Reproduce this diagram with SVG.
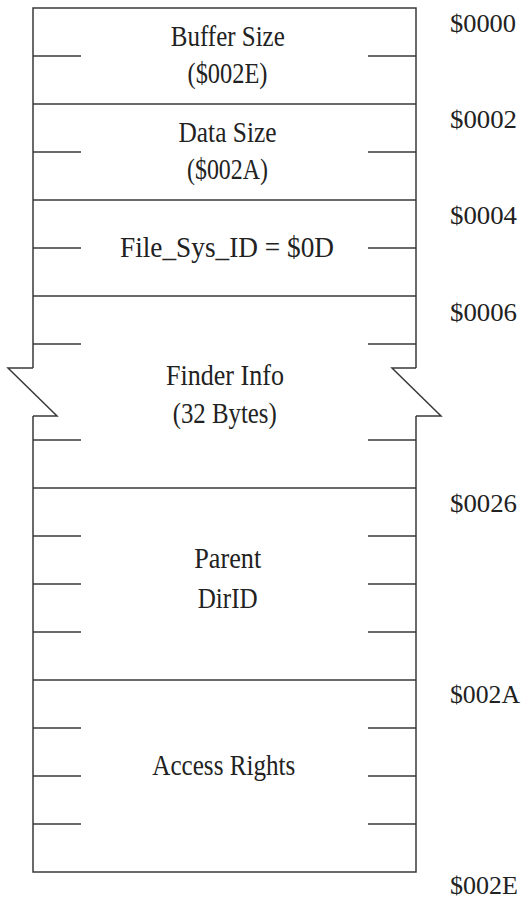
<svg xmlns="http://www.w3.org/2000/svg" width="523" height="901" viewBox="0 0 523 901">
<style>
.ln{stroke:#3a3a3a;stroke-width:1.5;fill:none}
.t{font-family:"Liberation Serif","Times New Roman",serif;font-size:29px;fill:#222;text-anchor:middle}
.a{font-family:"Liberation Serif","Times New Roman",serif;font-size:26px;fill:#222}
</style>
<rect width="523" height="901" fill="#fff"/>
<g id="frame" class="ln">
<path d="M33,368 V8 H416 V368 M33,416 V872 H416 V416"/>
<path d="M33,368 H8 L57,416 H33 M416,368 H392 L441,416 H416"/>
</g>
<g id="dividers" class="ln">
<path d="M33,104 H416 M33,200 H416 M33,296 H416 M33,488 H416 M33,680 H416"/>
</g>
<g id="ticks" class="ln">
<path d="M33,56 H81 M368,56 H416 M33,152 H81 M368,152 H416 M33,248 H81 M368,248 H416 M33,344 H81 M368,344 H416 M33,440 H81 M368,440 H416 M33,536 H81 M368,536 H416 M33,584 H81 M368,584 H416 M33,632 H81 M368,632 H416 M33,728 H81 M368,728 H416 M33,776 H81 M368,776 H416 M33,824 H81 M368,824 H416"/>
</g>
<g id="buffer-size">
<text class="t" x="227.8" y="46" textLength="114" lengthAdjust="spacingAndGlyphs">Buffer Size</text>
<text class="t" x="227.5" y="83" textLength="80" lengthAdjust="spacingAndGlyphs">($002E)</text>
</g>
<g id="data-size">
<text class="t" x="227.5" y="142" textLength="98" lengthAdjust="spacingAndGlyphs">Data Size</text>
<text class="t" x="227.5" y="179" textLength="81" lengthAdjust="spacingAndGlyphs">($002A)</text>
</g>
<g id="file-sys-id">
<text class="t" x="227" y="257" textLength="214" lengthAdjust="spacingAndGlyphs">File_Sys_ID = $0D</text>
</g>
<g id="finder-info">
<text class="t" x="225" y="385" textLength="118" lengthAdjust="spacingAndGlyphs">Finder Info</text>
<text class="t" x="224.7" y="423" textLength="104" lengthAdjust="spacingAndGlyphs">(32 Bytes)</text>
</g>
<g id="parent-dirid">
<text class="t" x="227.7" y="568" textLength="67" lengthAdjust="spacingAndGlyphs">Parent</text>
<text class="t" x="227.7" y="608" textLength="60" lengthAdjust="spacingAndGlyphs">DirID</text>
</g>
<g id="access-rights">
<text class="t" x="223.8" y="775" textLength="143" lengthAdjust="spacingAndGlyphs">Access Rights</text>
</g>
<g id="offsets">
<text class="a" x="450" y="32" textLength="66" lengthAdjust="spacingAndGlyphs">$0000</text>
<text class="a" x="450" y="128" textLength="67" lengthAdjust="spacingAndGlyphs">$0002</text>
<text class="a" x="450" y="224" textLength="67" lengthAdjust="spacingAndGlyphs">$0004</text>
<text class="a" x="450" y="321" textLength="67" lengthAdjust="spacingAndGlyphs">$0006</text>
<text class="a" x="450" y="512" textLength="67" lengthAdjust="spacingAndGlyphs">$0026</text>
<text class="a" x="450" y="703" textLength="70" lengthAdjust="spacingAndGlyphs">$002A</text>
<text class="a" x="450" y="894" textLength="68" lengthAdjust="spacingAndGlyphs">$002E</text>
</g>
</svg>
